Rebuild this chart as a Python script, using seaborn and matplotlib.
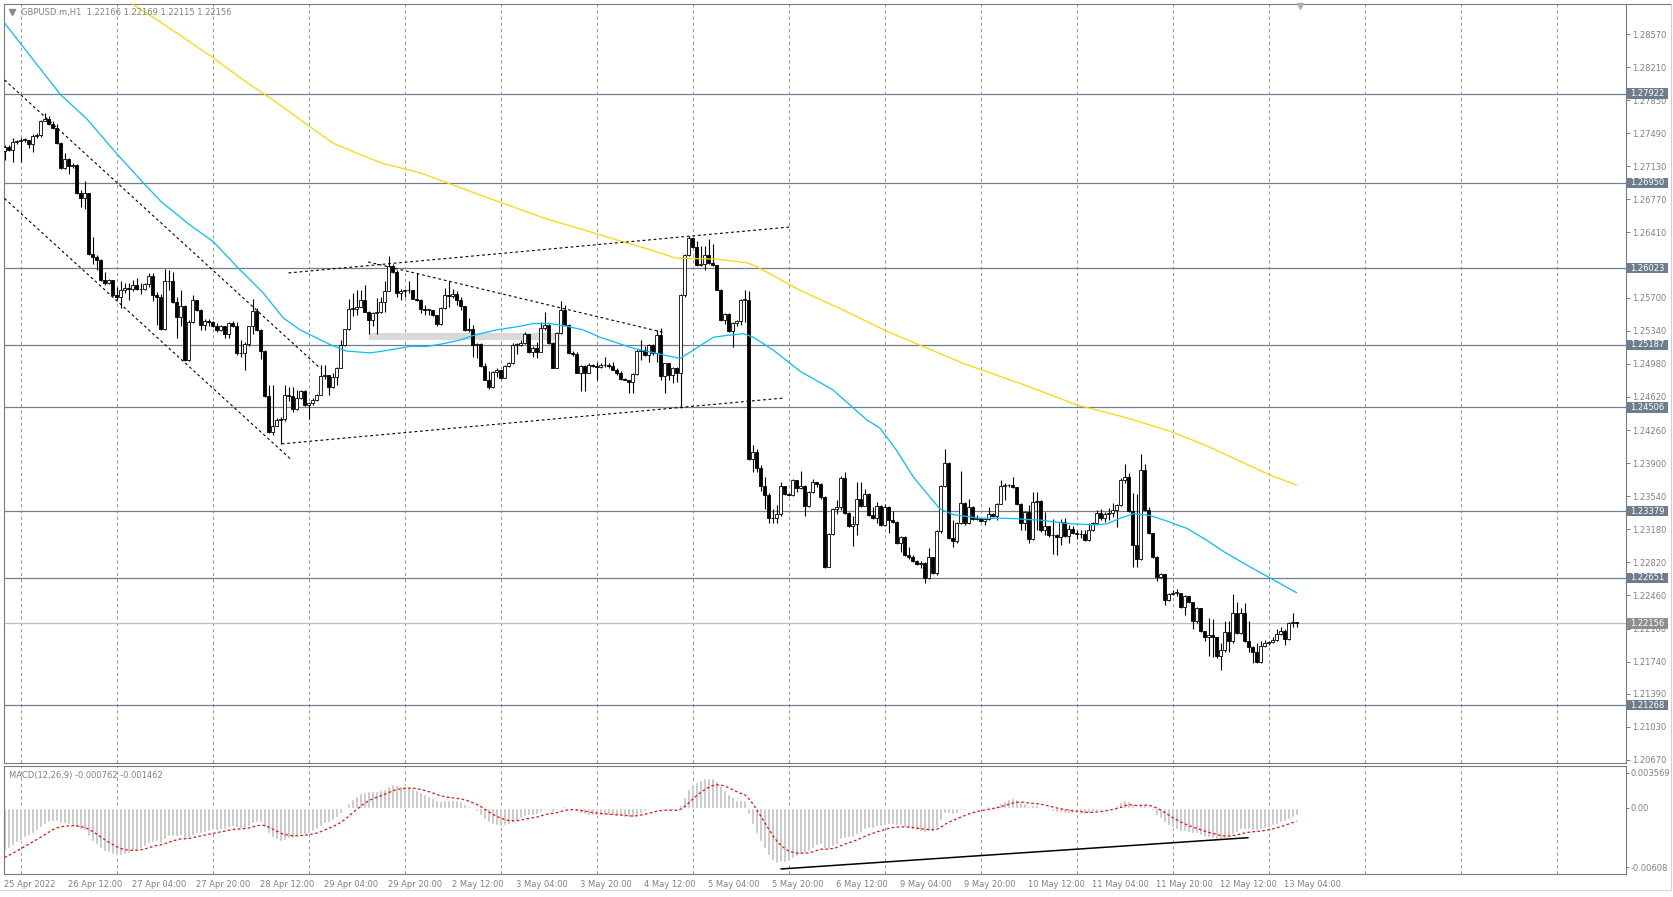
import numpy as np
import matplotlib
matplotlib.use("Agg")
import matplotlib.pyplot as plt
import seaborn as sns
from matplotlib.patches import Rectangle
from matplotlib.lines import Line2D

# ---------------- data (GBPUSD H1) ----------------
first_open = 1.2730
close_px = [
    1.2734, 1.2731, 1.2740, 1.2741, 1.2742, 1.2742, 1.2737, 1.2746, 1.2747, 1.2762,
    1.2765, 1.2759, 1.2755, 1.2738, 1.2711, 1.2721, 1.2713, 1.2714, 1.2684, 1.2678,
    1.2684, 1.2618, 1.2614, 1.2611, 1.2589, 1.2586, 1.2589, 1.2573, 1.2571, 1.2578,
    1.2581, 1.2580, 1.2584, 1.2579, 1.2580, 1.2585, 1.2594, 1.2573, 1.2571, 1.2536,
    1.2588, 1.2588, 1.2565, 1.2549, 1.2561, 1.2502, 1.2544, 1.2567, 1.2557, 1.2540,
    1.2545, 1.2544, 1.2539, 1.2535, 1.2539, 1.2531, 1.2543, 1.2539, 1.2510, 1.2510,
    1.2520, 1.2539, 1.2556, 1.2535, 1.2512, 1.2463, 1.2424, 1.2430, 1.2437, 1.2438,
    1.2464, 1.2463, 1.2449, 1.2461, 1.2468, 1.2453, 1.2455, 1.2459, 1.2464, 1.2485,
    1.2486, 1.2473, 1.2484, 1.2493, 1.2519, 1.2536, 1.2558, 1.2558, 1.2560, 1.2568,
    1.2555, 1.2546, 1.2553, 1.2555, 1.2565, 1.2577, 1.2604, 1.2598, 1.2575, 1.2577,
    1.2578, 1.2578, 1.2569, 1.2568, 1.2558, 1.2557, 1.2557, 1.2551, 1.2541, 1.2559,
    1.2573, 1.2572, 1.2574, 1.2568, 1.2561, 1.2535, 1.2536, 1.2519, 1.2520, 1.2496,
    1.2481, 1.2473, 1.2489, 1.2491, 1.2483, 1.2496, 1.2499, 1.2519, 1.2519, 1.2521,
    1.2531, 1.2511, 1.2515, 1.2511, 1.2537, 1.2540, 1.2521, 1.2494, 1.2532, 1.2557,
    1.2540, 1.2510, 1.2509, 1.2488, 1.2496, 1.2488, 1.2497, 1.2496, 1.2495, 1.2497,
    1.2497, 1.2496, 1.2491, 1.2488, 1.2482, 1.2481, 1.2478, 1.2487, 1.2512, 1.2513,
    1.2508, 1.2519, 1.2510, 1.2529, 1.2485, 1.2499, 1.2486, 1.2493, 1.2488, 1.2573,
    1.2617, 1.2635, 1.2625, 1.2606, 1.2607, 1.2617, 1.2608, 1.2606, 1.2578, 1.2546,
    1.2552, 1.2534, 1.2542, 1.2545, 1.2568, 1.2568, 1.2395, 1.2402, 1.2385, 1.2365,
    1.2355, 1.2330, 1.2330, 1.2335, 1.2365, 1.2356, 1.2355, 1.2372, 1.2363, 1.2365,
    1.2343, 1.2359, 1.2369, 1.2367, 1.2353, 1.2277, 1.2313, 1.2340, 1.2342, 1.2374,
    1.2336, 1.2322, 1.2324, 1.2351, 1.2343, 1.2356, 1.2334, 1.2330, 1.2343, 1.2323,
    1.2342, 1.2328, 1.2326, 1.2303, 1.2310, 1.2290, 1.2288, 1.2283, 1.2280, 1.2281,
    1.2265, 1.2288, 1.2270, 1.2316, 1.2365, 1.2390, 1.2309, 1.2305, 1.2325, 1.2347,
    1.2325, 1.2342, 1.2329, 1.2330, 1.2327, 1.2329, 1.2335, 1.2333, 1.2346, 1.2365,
    1.2366, 1.2366, 1.2364, 1.2346, 1.2325, 1.2337, 1.2307, 1.2348, 1.2349, 1.2317,
    1.2322, 1.2312, 1.2312, 1.2310, 1.2326, 1.2311, 1.2318, 1.2314, 1.2313, 1.2313,
    1.2306, 1.2317, 1.2325, 1.2336, 1.2330, 1.2335, 1.2336, 1.2339, 1.2344, 1.2372,
    1.2375, 1.2338, 1.2301, 1.2286, 1.2383, 1.2339, 1.2314, 1.2288, 1.2266, 1.2269,
    1.2241, 1.2248, 1.2249, 1.2249, 1.2233, 1.2245, 1.2239, 1.2218, 1.2232, 1.2207,
    1.2201, 1.2203, 1.2201, 1.2180, 1.2187, 1.2206, 1.2196, 1.2227, 1.2205, 1.2227,
    1.2196, 1.2190, 1.2185, 1.2174, 1.2191, 1.2194, 1.2195, 1.2198, 1.2204, 1.2207,
    1.2199, 1.2216, 1.22166, 1.22156,
]
high_px = [
    1.2736, 1.2736, 1.2744, 1.2742, 1.2744, 1.2744, 1.2742, 1.2748, 1.2749, 1.2763,
    1.2771, 1.2768, 1.2762, 1.2759, 1.2739, 1.2727, 1.2722, 1.2717, 1.2716, 1.2687,
    1.2697, 1.2684, 1.2636, 1.2617, 1.2612, 1.2598, 1.2590, 1.2589, 1.2582, 1.2588,
    1.2586, 1.2586, 1.2589, 1.2591, 1.2586, 1.2586, 1.2597, 1.2597, 1.2576, 1.2574,
    1.2601, 1.2600, 1.2598, 1.2571, 1.2578, 1.2562, 1.2546, 1.2573, 1.2568, 1.2558,
    1.2547, 1.2547, 1.2545, 1.2542, 1.2540, 1.2539, 1.2544, 1.2545, 1.2544, 1.2524,
    1.2522, 1.2539, 1.2569, 1.2559, 1.2536, 1.2513, 1.2475, 1.2475, 1.2439, 1.2440,
    1.2475, 1.2473, 1.2473, 1.2470, 1.2470, 1.2470, 1.2457, 1.2461, 1.2465, 1.2497,
    1.2497, 1.2486, 1.2488, 1.2495, 1.2524, 1.2536, 1.2569, 1.2575, 1.2578, 1.2578,
    1.2584, 1.2556, 1.2554, 1.2570, 1.2571, 1.2588, 1.2615, 1.2607, 1.2600, 1.2580,
    1.2579, 1.2588, 1.2578, 1.2597, 1.2569, 1.2562, 1.2558, 1.2557, 1.2551, 1.2560,
    1.2581, 1.2588, 1.2580, 1.2577, 1.2571, 1.2561, 1.2548, 1.2540, 1.2521, 1.2521,
    1.2499, 1.2490, 1.2490, 1.2494, 1.2490, 1.2497, 1.2500, 1.2521, 1.2521, 1.2524,
    1.2533, 1.2531, 1.2517, 1.2522, 1.2544, 1.2555, 1.2541, 1.2522, 1.2533, 1.2566,
    1.2562, 1.2541, 1.2512, 1.2511, 1.2497, 1.2497, 1.2499, 1.2498, 1.2500, 1.2499,
    1.2506, 1.2499, 1.2500, 1.2493, 1.2490, 1.2483, 1.2481, 1.2488, 1.2514, 1.2524,
    1.2517, 1.2520, 1.2520, 1.2535, 1.2537, 1.2499, 1.2499, 1.2495, 1.2495, 1.2574,
    1.2618, 1.2637, 1.2634, 1.2632, 1.2626, 1.2626, 1.2634, 1.2629, 1.2606, 1.2580,
    1.2553, 1.2553, 1.2544, 1.2546, 1.2569, 1.2578, 1.2577, 1.2410, 1.2405, 1.2388,
    1.2375, 1.2358, 1.2340, 1.2345, 1.2369, 1.2365, 1.2357, 1.2373, 1.2372, 1.2381,
    1.2366, 1.2360, 1.2373, 1.2370, 1.2368, 1.2354, 1.2314, 1.2341, 1.2350, 1.2376,
    1.2380, 1.2337, 1.2332, 1.2370, 1.2370, 1.2362, 1.2357, 1.2342, 1.2348, 1.2345,
    1.2346, 1.2343, 1.2338, 1.2327, 1.2311, 1.2311, 1.2299, 1.2290, 1.2285, 1.2284,
    1.2282, 1.2298, 1.2288, 1.2317, 1.2366, 1.2405, 1.2391, 1.2328, 1.2326, 1.2381,
    1.2348, 1.2351, 1.2343, 1.2334, 1.2330, 1.2330, 1.2342, 1.2336, 1.2347, 1.2372,
    1.2368, 1.2367, 1.2375, 1.2364, 1.2347, 1.2338, 1.2345, 1.2359, 1.2359, 1.2350,
    1.2337, 1.2322, 1.2329, 1.2313, 1.2329, 1.2330, 1.2323, 1.2322, 1.2317, 1.2317,
    1.2317, 1.2325, 1.2326, 1.2339, 1.2340, 1.2337, 1.2341, 1.2347, 1.2346, 1.2374,
    1.2389, 1.2379, 1.2357, 1.2356, 1.2400, 1.2389, 1.2342, 1.2314, 1.2289, 1.2271,
    1.2269, 1.2249, 1.2252, 1.2253, 1.2249, 1.2246, 1.2245, 1.2239, 1.2233, 1.2230,
    1.2207, 1.2221, 1.2220, 1.2201, 1.2194, 1.2218, 1.2218, 1.2248, 1.2239, 1.2232,
    1.2238, 1.2218, 1.2191, 1.2194, 1.2197, 1.2198, 1.2197, 1.2201, 1.2209, 1.2212,
    1.2209, 1.2217, 1.2227, 1.22169,
]
low_px = [
    1.2720, 1.2730, 1.2718, 1.2737, 1.2718, 1.2740, 1.2733, 1.2729, 1.2744, 1.2745,
    1.2762, 1.2758, 1.2754, 1.2737, 1.2710, 1.2710, 1.2705, 1.2711, 1.2683, 1.2669,
    1.2667, 1.2617, 1.2607, 1.2600, 1.2588, 1.2584, 1.2585, 1.2572, 1.2568, 1.2559,
    1.2575, 1.2568, 1.2577, 1.2578, 1.2574, 1.2578, 1.2582, 1.2566, 1.2540, 1.2535,
    1.2535, 1.2578, 1.2564, 1.2526, 1.2539, 1.2501, 1.2501, 1.2543, 1.2556, 1.2535,
    1.2535, 1.2539, 1.2538, 1.2533, 1.2534, 1.2526, 1.2526, 1.2538, 1.2508, 1.2506,
    1.2491, 1.2517, 1.2530, 1.2534, 1.2503, 1.2462, 1.2423, 1.2421, 1.2430, 1.2411,
    1.2436, 1.2458, 1.2446, 1.2448, 1.2460, 1.2452, 1.2438, 1.2453, 1.2458, 1.2464,
    1.2482, 1.2464, 1.2472, 1.2475, 1.2493, 1.2518, 1.2535, 1.2550, 1.2551, 1.2560,
    1.2554, 1.2531, 1.2539, 1.2530, 1.2553, 1.2555, 1.2577, 1.2597, 1.2571, 1.2568,
    1.2571, 1.2575, 1.2569, 1.2566, 1.2553, 1.2551, 1.2551, 1.2550, 1.2539, 1.2540,
    1.2558, 1.2560, 1.2570, 1.2562, 1.2557, 1.2534, 1.2533, 1.2505, 1.2504, 1.2495,
    1.2480, 1.2471, 1.2472, 1.2484, 1.2482, 1.2484, 1.2495, 1.2498, 1.2509, 1.2517,
    1.2520, 1.2510, 1.2505, 1.2504, 1.2512, 1.2535, 1.2520, 1.2493, 1.2493, 1.2531,
    1.2539, 1.2509, 1.2507, 1.2488, 1.2469, 1.2469, 1.2488, 1.2495, 1.2480, 1.2494,
    1.2495, 1.2493, 1.2491, 1.2486, 1.2481, 1.2480, 1.2466, 1.2466, 1.2486, 1.2502,
    1.2507, 1.2500, 1.2508, 1.2500, 1.2481, 1.2466, 1.2481, 1.2477, 1.2478, 1.2450,
    1.2571, 1.2615, 1.2624, 1.2605, 1.2604, 1.2600, 1.2607, 1.2605, 1.2578, 1.2545,
    1.2541, 1.2533, 1.2516, 1.2539, 1.2540, 1.2544, 1.2393, 1.2380, 1.2380, 1.2360,
    1.2340, 1.2325, 1.2325, 1.2325, 1.2333, 1.2355, 1.2354, 1.2354, 1.2359, 1.2362,
    1.2332, 1.2342, 1.2358, 1.2364, 1.2351, 1.2276, 1.2277, 1.2312, 1.2335, 1.2339,
    1.2335, 1.2320, 1.2300, 1.2312, 1.2342, 1.2343, 1.2332, 1.2329, 1.2325, 1.2322,
    1.2322, 1.2314, 1.2325, 1.2302, 1.2293, 1.2289, 1.2286, 1.2282, 1.2279, 1.2276,
    1.2260, 1.2264, 1.2269, 1.2268, 1.2314, 1.2364, 1.2308, 1.2299, 1.2303, 1.2324,
    1.2323, 1.2324, 1.2328, 1.2328, 1.2326, 1.2323, 1.2328, 1.2331, 1.2328, 1.2346,
    1.2350, 1.2364, 1.2363, 1.2345, 1.2317, 1.2317, 1.2303, 1.2306, 1.2317, 1.2315,
    1.2312, 1.2310, 1.2291, 1.2290, 1.2301, 1.2310, 1.2303, 1.2313, 1.2308, 1.2309,
    1.2305, 1.2305, 1.2316, 1.2323, 1.2328, 1.2326, 1.2328, 1.2331, 1.2321, 1.2343,
    1.2368, 1.2337, 1.2277, 1.2277, 1.2285, 1.2338, 1.2313, 1.2287, 1.2262, 1.2265,
    1.2236, 1.2240, 1.2247, 1.2245, 1.2232, 1.2225, 1.2238, 1.2209, 1.2216, 1.2206,
    1.2196, 1.2180, 1.2179, 1.2178, 1.2165, 1.2185, 1.2184, 1.2194, 1.2204, 1.2204,
    1.2195, 1.2185, 1.2172, 1.2172, 1.2173, 1.2190, 1.2192, 1.2194, 1.2197, 1.2203,
    1.2192, 1.2198, 1.2212, 1.22115,
]

# moving averages (vertices: bar index, price)
ma_fast_bar = [0, 7, 14, 20.5, 28, 34.7, 39.3, 46.4, 52.2, 58.5, 64.7, 69.7, 73.9,
               81.4, 85.5, 91.4, 94.7, 101.4, 105.6, 109.7, 113.9, 117.2, 123, 128.9,
               132.2, 136.4, 140.6, 144.7, 148.9, 157.2, 165.6, 168.9, 172.2, 177.2,
               180.6, 184.7, 187.2, 192.2, 198.9, 207, 215.6, 218.9, 223, 227.2, 230.6,
               233.9, 237.2, 243.9, 250.6, 258.9, 266.4, 272.2, 275.6, 278.9, 282.2,
               286.4, 290.6, 295.6, 300.6, 304.7, 310.6, 316.4, 323]
ma_fast_val = [1.2869, 1.2830, 1.2791, 1.2765, 1.2727, 1.2695, 1.2674, 1.2649, 1.2631,
               1.2602, 1.2575, 1.2548, 1.2535, 1.2519, 1.2512, 1.2510, 1.2512, 1.2517,
               1.2517, 1.2520, 1.2524, 1.2529, 1.2535, 1.2539, 1.2542, 1.2542, 1.2539,
               1.2535, 1.2527, 1.2515, 1.2507, 1.2504, 1.2513, 1.2527, 1.2529, 1.2531,
               1.2527, 1.2513, 1.2490, 1.2470, 1.2437, 1.2428, 1.2404, 1.2375, 1.2357,
               1.2340, 1.2334, 1.2330, 1.2330, 1.2328, 1.2324, 1.2323, 1.2324, 1.2330,
               1.2335, 1.2333, 1.2327, 1.2319, 1.2306, 1.2294, 1.2279, 1.2265, 1.2249]
ma_slow_bar = [32.2, 40, 52.2, 60, 67.2, 76.4, 82.2, 90.5, 94.7, 103.9, 120, 136,
               144.7, 151.4, 160, 168, 178, 185.6, 188, 198.9, 210, 220.3, 240, 255,
               268.3, 280, 290.5, 300, 316.4, 323]
ma_slow_val = [1.2889, 1.2867, 1.2831, 1.2806, 1.2785, 1.2756, 1.2738, 1.2723, 1.2716,
               1.2706, 1.2680, 1.2655, 1.2644, 1.2635, 1.2624, 1.2613, 1.2612, 1.2608,
               1.2604, 1.2578, 1.2556, 1.2534, 1.2498, 1.2475, 1.2453, 1.2440, 1.2426,
               1.2410, 1.2377, 1.2366]

# horizontal levels and current price
levels = [1.27922, 1.26950, 1.26023, 1.25187, 1.24506, 1.23379, 1.22651, 1.21268]
last_price = 1.22156

# dashed trend lines (bar0, price0, bar1, price1)
trend_lines = [
    (0.0, 1.2807, 79.0, 1.2493),
    (0.0, 1.2678, 71.4, 1.2395),
    (71.0, 1.2597, 196.4, 1.2647),
    (69.3, 1.2411, 195.1, 1.2461),
    (90.9, 1.2609, 165.0, 1.2532),
]
zone_bars = (91.2, 138.9)
zone_prices = (1.25240, 1.25318)

price_ticks = [1.28570, 1.28210, 1.27850, 1.27490, 1.27130, 1.26770, 1.26410, 1.25700,
               1.25340, 1.24980, 1.24620, 1.24260, 1.23900, 1.23540, 1.23180, 1.22820,
               1.22460, 1.22100, 1.21740, 1.21390, 1.21030, 1.20670]
date_labels = ["25 Apr 2022", "26 Apr 12:00", "27 Apr 04:00", "27 Apr 20:00",
               "28 Apr 12:00", "29 Apr 04:00", "29 Apr 20:00", "2 May 12:00",
               "3 May 04:00", "3 May 20:00", "4 May 12:00", "5 May 04:00",
               "5 May 20:00", "6 May 12:00", "9 May 04:00", "9 May 20:00",
               "10 May 12:00", "11 May 04:00", "11 May 20:00", "12 May 12:00",
               "13 May 04:00"]
label_every = 16

# MACD(12,26,9) state at the first visible bar
ema_fast_seed = 1.2744
ema_slow_seed = 1.2790
signal_seed = -0.00527
macd_ticks = [0.003569, 0.0, -0.00608]
macd_tick_labels = ["0.003569", "0.00", "-0.00608"]
macd_trend = (194.1, -0.00625, 310.9, -0.00306)

header = "GBPUSD.m,H1  1.22166 1.22169 1.22115 1.22156"
macd_header = "MACD(12,26,9) -0.000762 -0.001462"

# ---------------- drawing ----------------
sns.set_style("white")
plt.rcParams["font.family"] = ["DejaVu Sans"]

W, H = 1673, 897
fig = plt.figure(figsize=(W / 100, H / 100), dpi=100)
fig.patch.set_facecolor("white")


def rect(x0, y0, x1, y1):
    return [x0 / W, 1 - y1 / H, (x1 - x0) / W, (y1 - y0) / H]


ax = fig.add_axes(rect(4, 4, 1626, 763))
axm = fig.add_axes(rect(4, 766, 1626, 873.5))

TXT = "#808080"
SPINE = "#7a7a7a"
LEVEL = "#6f7f90"
GRID = "#9a9a9a"

c = np.array(close_px)
h = np.array(high_px)
l = np.array(low_px)
assert len(c) == len(h) == len(l)
n = len(c)
idx = np.arange(n)
o = np.concatenate([[first_open], c[:-1]])
h = np.maximum(h, np.maximum(o, c))
l = np.minimum(l, np.minimum(o, c))

XL, XR = -0.125, 405.375
for a in (ax, axm):
    a.set_xlim(XL, XR)
    a.set_facecolor("white")
    for s in a.spines.values():
        s.set_color(SPINE)
        s.set_linewidth(0.8)
    for k in range(0, 17):
        gx = 4.225 + 24 * k
        if gx < XR:
            a.axvline(gx, color=GRID, lw=0.75, ls=(0, (3, 3)), zorder=1)

ax.set_ylim(1.20637, 1.288965)
axm.set_ylim(-0.006712, 0.004252)

# levels
for v in levels:
    ax.axhline(v, color=LEVEL, lw=0.9, zorder=1.6)
ax.axhline(last_price, color="#bdbdbd", lw=0.9, zorder=1.6)

# zone
ax.add_patch(Rectangle((zone_bars[0], zone_prices[0]), zone_bars[1] - zone_bars[0],
                       zone_prices[1] - zone_prices[0], facecolor="#d9d9d9",
                       edgecolor="none", zorder=1.7))

# candles
ax.vlines(idx, l, h, color="black", lw=0.8, zorder=3)
bull = c >= o
body_bottom = np.minimum(o, c)
body_h = np.maximum(np.abs(c - o), 0.00003)
ax.bar(idx[bull], body_h[bull], bottom=body_bottom[bull], width=0.62,
       color="white", edgecolor="black", linewidth=0.6, zorder=3.2)
ax.bar(idx[~bull], body_h[~bull], bottom=body_bottom[~bull], width=0.62,
       color="black", edgecolor="black", linewidth=0.6, zorder=3.2)

# moving averages
sns.lineplot(x=ma_fast_bar, y=ma_fast_val, ax=ax, color="#00bfff", lw=0.9,
             estimator=None, sort=False, zorder=4)
sns.lineplot(x=ma_slow_bar, y=ma_slow_val, ax=ax, color="#ffd700", lw=0.9,
             estimator=None, sort=False, zorder=4)

# trend lines
for (b0, p0, b1, p1) in trend_lines:
    ax.plot([b0, b1], [p0, p1], color="black", lw=0.8, ls=(0, (2.5, 2.5)), zorder=5)

# axes ticks (main)
ax.tick_params(axis="x", bottom=False, labelbottom=False)
ax.yaxis.tick_right()
ax.set_yticks(price_ticks)
ax.set_yticklabels([f"{v:.5f}" for v in price_ticks])
ax.tick_params(axis="y", direction="out", length=3, width=0.7, color=SPINE,
               labelsize=6, labelcolor=TXT, pad=1.5)
ax.set_xlabel("")
ax.set_ylabel("")

# price boxes
ytr = ax.get_yaxis_transform()
box_w = 41.6 / 1622
box_h = 10.7 * 0.00010882
for v, col in [(lv, "#6e7d8e") for lv in levels] + [(last_price, "#8e8e8e")]:
    ax.add_patch(Rectangle((1.0 + 0.6 / 1622, v - box_h / 2), box_w, box_h,
                           transform=ytr, clip_on=False, facecolor=col,
                           edgecolor="none", zorder=10))
    ax.text(1.0 + 21.4 / 1622, v, f"{v:.5f}", transform=ytr, ha="center",
            va="center", color="white", fontsize=6, zorder=11, clip_on=False)

# MACD
a12, a26, a9 = 2 / 13, 2 / 27, 2 / 10
e12, e26, sig = ema_fast_seed, ema_slow_seed, signal_seed
macd, signal = [], []
for px in c:
    e12 += a12 * (px - e12)
    e26 += a26 * (px - e26)
    m = e12 - e26
    sig += a9 * (m - sig)
    macd.append(m)
    signal.append(sig)
axm.bar(idx, macd, width=0.72, color="#c0c0c0", zorder=2)
axm.plot(idx, signal, color="red", lw=0.9, ls=(0, (2, 2)), zorder=3)
axm.plot([macd_trend[0], macd_trend[2]], [macd_trend[1], macd_trend[3]],
         color="black", lw=1.1, zorder=4)

axm.yaxis.tick_right()
axm.set_yticks(macd_ticks)
axm.set_yticklabels(macd_tick_labels)
axm.tick_params(axis="y", direction="out", length=2, width=0.7, color=SPINE,
                labelsize=6, labelcolor=TXT, pad=1)
axm.set_xticks([label_every * k for k in range(len(date_labels))])
axm.set_xticklabels(date_labels)
for t in axm.get_xticklabels():
    t.set_ha("left")
axm.tick_params(axis="x", direction="out", length=3, width=0.7, color=SPINE,
                labelsize=6, labelcolor=TXT, pad=2)

# headers
fig.text(20.7 / W, 1 - 12.7 / H, header, color=TXT, fontsize=6, ha="left", va="center")
fig.text(9.0 / W, 1 - 775 / H, macd_header, color=TXT, fontsize=6, ha="left", va="center")
fig.add_artist(Line2D([12 / W], [1 - 12.5 / H], marker="v", markersize=4,
                      color="#8a8a8a", transform=fig.transFigure))
fig.add_artist(Line2D([1300 / W], [1 - 6 / H], marker="v", markersize=4.5,
                      color="#b0b0b0", transform=fig.transFigure))

# outer frame
fig.add_artist(Line2D([1626 / W, 1671 / W], [1 - 4 / H, 1 - 4 / H], color=SPINE,
                      lw=0.8, transform=fig.transFigure))
fig.add_artist(Line2D([1671 / W, 1671 / W], [1 - 4 / H, 1 - 890 / H], color="#d0d0d0",
                      lw=0.8, transform=fig.transFigure))
fig.add_artist(Line2D([0, 1671 / W], [1 - 890 / H, 1 - 890 / H], color="#d8d8d8",
                      lw=0.8, transform=fig.transFigure))

fig.savefig("out.png", dpi=100, facecolor="white")
